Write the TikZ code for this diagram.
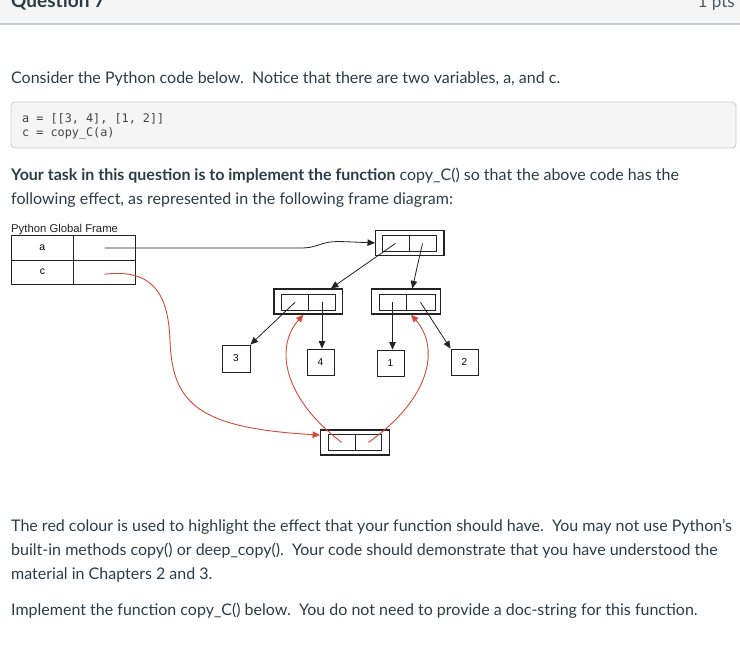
\documentclass[tikz,border=0pt]{standalone}
\usepackage{fontspec}
\setmainfont{Lato}
\newfontfamily\diagfont{Liberation Sans}
\newfontfamily\codefont{DejaVu Sans Mono}
\usetikzlibrary{arrows.meta,calc}
\definecolor{txt}{HTML}{2D3B45}
\definecolor{hdrbg}{HTML}{F5F5F5}
\definecolor{hdrline}{HTML}{C7CDD1}
\definecolor{codebg}{HTML}{F5F5F5}
\definecolor{codetxt}{HTML}{444444}
\definecolor{redarrow}{HTML}{D44A34}
\definecolor{ink}{HTML}{222222}
\begin{document}
\begin{tikzpicture}[x=1pt,y=-1pt,
  body/.style={anchor=base west, inner sep=0pt, font=\fontsize{16}{19}\selectfont, text=txt},
  codeline/.style={anchor=base west, inner sep=0pt, font=\codefont\fontsize{11.8}{14}\selectfont, text=codetxt},
  fcell/.style={draw=ink, line width=0.9pt, inner sep=0pt, minimum height=24.3pt, font=\diagfont\fontsize{10.5}{12}\selectfont},
  outerbox/.style={draw=ink, line width=1.2pt, inner sep=0pt, minimum height=25pt},
  innercell/.style={draw=ink, line width=0.8pt, inner sep=0pt, minimum height=16pt},
  valbox/.style={draw=ink, line width=0.9pt, inner sep=0pt, minimum width=27pt, minimum height=26pt, font=\diagfont\fontsize{10}{12}\selectfont},
  blk/.style={draw=ink, line width=0.8pt, -{Triangle[length=7.5pt,width=6.5pt]}},
  redarr/.style={draw=redarrow, line width=0.9pt, -{Triangle[length=7.5pt,width=6.5pt]}}
]
\useasboundingbox (0,0) rectangle (740,649);
% header
\fill[hdrbg] (0,0) rectangle (740,24);
\draw[hdrline, line width=1.3pt] (0,24) -- (740,24);
\node[anchor=base west, inner sep=0pt, font=\bfseries\fontsize{19}{22}\selectfont, text=txt] (qtitle) at (11,7) {Question 7};
\node[anchor=base east, inner sep=0pt, font=\fontsize{17}{20}\selectfont, text=txt!85] (qpts) at (735,7) {1 pts};
% text
\node[body] (t1) at (11,83) {Consider the Python code below.\ \ Notice that there are two variables, a, and c.};
% code box
\filldraw[fill=codebg, draw=hdrline, line width=0.8pt, rounded corners=4pt] (11,102) rectangle (736,148);
\node[codeline] (c1) at (22,122.5) {a = [[3, 4], [1, 2]]};
\node[codeline] (c2) at (22,136.5) {c = copy\_C(a)};
\node[body] (t2) at (11,180) {\textbf{Your task in this question is to implement the function} copy\_C() so that the above code has the};
\node[body] (t3) at (11,204) {following effect, as represented in the following frame diagram:};
% frame
\node[anchor=base west, inner sep=0pt, font=\diagfont\fontsize{11.3}{13}\selectfont, text=ink] (fttl) at (11,232) {Python Global Frame};
\node[fcell, minimum width=61.8pt] (aname) at (42.4,248) {a};
\node[fcell, minimum width=62.4pt] (aval) at (104.5,248) {};
\node[fcell, minimum width=61.8pt] (cname) at (42.4,272.2) {c};
\node[fcell, minimum width=62.4pt] (cval) at (104.5,272.2) {};
% lists
\node[outerbox, minimum width=68.3pt] (toplist) at (409.8,242.9) {};
\node[innercell, minimum width=27pt, minimum height=15.3pt] (tl0) at (395.5,243.4) {};
\node[innercell, minimum width=27pt, minimum height=15.3pt] (tl1) at (422.5,243.4) {};
\node[outerbox, minimum width=68.7pt] (L) at (308.3,301.5) {};
\node[innercell, minimum width=26.6pt, minimum height=16.7pt] (l0) at (295,302.3) {};
\node[innercell, minimum width=27.4pt, minimum height=16.7pt] (l1) at (322,302.3) {};
\node[outerbox, minimum width=69pt] (R) at (406.2,301.5) {};
\node[innercell, minimum width=27pt, minimum height=16.7pt] (r0) at (392.5,302.3) {};
\node[innercell, minimum width=29pt, minimum height=16.7pt] (r1) at (420.5,302.3) {};
\node[outerbox, minimum width=68.6pt] (B) at (355,442.5) {};
\node[innercell, minimum width=26.7pt, minimum height=16.4pt] (b0) at (341.65,442.5) {};
\node[innercell, minimum width=26.7pt, minimum height=16.4pt] (b1) at (368.35,442.5) {};
% values
\node[valbox, minimum width=28pt, minimum height=27pt] (v3) at (236,358.5) {3};
\node[valbox] (v4) at (320.5,362) {4};
\node[valbox] (v1) at (390.5,363) {1};
\node[valbox] (v2) at (464.5,362) {2};
% black arrows
\draw[blk] (aval.center) -- (300,248) .. controls (320,248) and (318,241.5) .. (340,241.5) -- (toplist.west);
\draw[blk] (tl0.center) -- (L.30);
\draw[blk] (tl1.center) -- (R.65);
\draw[blk] (l0.center) -- (v3.north east);
\draw[blk] (l1.center) -- (l1.center |- v4.north);
\draw[blk] (r0.center) -- (r0.center |- v1.north);
\draw[blk] (r1.center) -- (v2.north west);
% red arrows
\draw[redarr] ($(cval.center)+(0,2)$) .. controls (150,269) and (168,290) .. (170,340) .. controls (172,405) and (200,428) .. (B.168);
\draw[redarr] (b0.center) .. controls (280,395) and (276,345) .. (L.-110);
\draw[redarr] (b1.center) .. controls (435,395) and (438,345) .. (R.-70);
% bottom text
\node[body] (t4) at (11,531) {The red colour is used to highlight the effect that your function should have.\ \ You may not use Python's};
\node[body] (t5) at (11,555) {built-in methods copy() or deep\_copy().\ \ Your code should demonstrate that you have understood the};
\node[body] (t6) at (11,579) {material in Chapters 2 and 3.};
\node[body] (t7) at (11,615) {Implement the function copy\_C() below.\ \ You do not need to provide a doc-string for this function.};
\end{tikzpicture}
\end{document}
